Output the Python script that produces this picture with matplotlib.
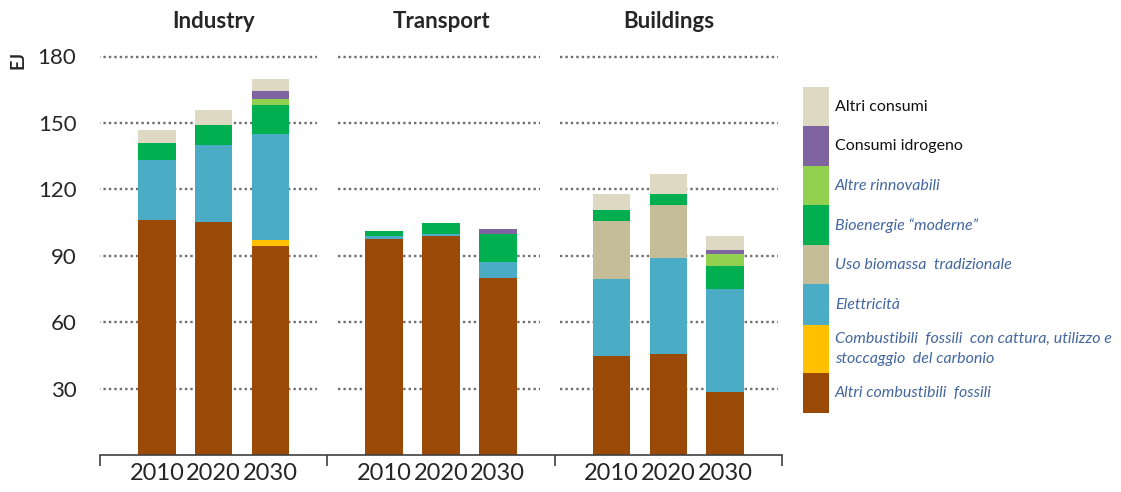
import matplotlib
matplotlib.use("Agg")
import matplotlib.pyplot as plt
from matplotlib import font_manager
from matplotlib.patches import Rectangle


def pick_font(names):
    for n in names:
        try:
            font_manager.findfont(n, fallback_to_default=False)
            return n
        except Exception:
            pass
    return "DejaVu Sans"


FONT = pick_font(["Liberation Sans Narrow", "Lato", "Open Sans"])
plt.rcParams["font.family"] = [FONT, "DejaVu Sans"]

# dati (EJ) - Industry 2010/2020/2030, Transport ..., Buildings ...
settori = ["Industry", "Transport", "Buildings"]
anni = ["2010", "2020", "2030"]

fossili = [106.2, 105.4, 94.6, 97.6, 99.1, 79.8, 44.7, 45.8, 28.5]
ccus = [0, 0, 2.7, 0, 0, 0, 0, 0, 0]
elettricita = [27.2, 34.6, 47.6, 1.5, 0.8, 7.2, 34.8, 43.2, 46.5]
biomassa_trad = [0, 0, 0, 0, 0, 0, 26.1, 23.7, 0]
bioenergie = [7.6, 9.0, 13.4, 2.3, 5.1, 12.9, 5.1, 5.0, 10.5]
altre_rinn = [0, 0, 2.7, 0, 0, 0, 0, 0, 5.3]
idrogeno = [0, 0, 3.3, 0, 0, 2.2, 0, 0, 1.8]
altri_consumi = [6.0, 7.0, 5.7, 0, 0, 0, 7.0, 9.3, 6.2]

serie = [
    ("Altri combustibili  fossili", fossili, "#9a4a06"),
    ("Combustibili  fossili  con cattura, utilizzo e\nstoccaggio  del carbonio", ccus, "#ffc000"),
    ("Elettricità", elettricita, "#4bacc6"),
    ("Uso biomassa  tradizionale", biomassa_trad, "#c4bd97"),
    ("Bioenergie “moderne”", bioenergie, "#00b050"),
    ("Altre rinnovabili", altre_rinn, "#92d050"),
    ("Consumi idrogeno", idrogeno, "#8064a2"),
    ("Altri consumi", altri_consumi, "#ddd9c3"),
]

yticks = [30, 60, 90, 120, 150, 180]

W, H = 1121, 492
fig = plt.figure(figsize=(W / 100, H / 100), dpi=100)

ymax = 182
top_px = 455 - (455 - 56.5) / 180 * ymax
ax = fig.add_axes([100 / W, (H - 455) / H, 682 / W, (455 - top_px) / H])

xpos = [g * 4 + i + 1 for g in range(3) for i in range(3)]
base = [0.0] * 9
for nome, valori, col in serie:
    ax.bar(xpos, valori, width=0.66, bottom=base, color=col, zorder=2, linewidth=0)
    base = [b + v for b, v in zip(base, valori)]

# griglia punteggiata per ogni settore
griglia = [(-0.04, 3.82), (4.19, 7.74), (8.09, 11.93)]
for x0, x1 in griglia:
    ax.hlines(yticks, x0, x1, colors="#6e6e6e", linewidth=1.7,
              linestyles=(0, (1, 1.3)), zorder=1)

ax.set_xlim(0, 12)
ax.set_ylim(0, ymax)
for s in ["top", "right", "left"]:
    ax.spines[s].set_visible(False)
ax.spines["bottom"].set_color("#404040")
ax.spines["bottom"].set_linewidth(1.2)

ax.set_yticks(yticks)
ax.set_yticklabels([str(v) for v in yticks], fontsize=16, color="#262626")
ax.tick_params(axis="y", length=0, pad=17)

ax.set_xticks(xpos)
ax.set_xticklabels(anni * 3, fontsize=17, color="#262626")
ax.tick_params(axis="x", length=0, pad=6)
ax.set_xticks([0, 4, 8, 12], minor=True)
ax.tick_params(axis="x", which="minor", length=8, width=1.2, color="#404040", direction="out")

for g, nome in enumerate(settori):
    fig.text((100 + (g * 4 + 2) * 682 / 12) / W, (H - 22) / H, nome, ha="center",
             va="center", fontsize=16, fontweight="bold", color="#262626")

fig.text(18 / W, (H - 60) / H, "EJ", rotation=90, ha="center", va="center",
         fontsize=13, fontweight="bold", color="#262626")

# legenda manuale a destra
leg = fig.add_axes([0, 0, 1, 1])
leg.set_xlim(0, W)
leg.set_ylim(H, 0)
leg.axis("off")
leg.patch.set_alpha(0)

sw_top = [86.7, 126, 166, 205, 245, 284, 325, 373]
sw_bot = sw_top[1:] + [413]
text_y = [106.7, 146, 186, 226, 265, 305, 349, 393]
ordine = serie[::-1]
for k, (nome, valori, col) in enumerate(ordine):
    leg.add_patch(Rectangle((803, sw_top[k]), 25.5, sw_bot[k] - sw_top[k], color=col, linewidth=0))
    corsivo = k >= 2
    leg.text(835, text_y[k], nome, ha="left", va="center", fontsize=11.5,
             style="italic" if corsivo else "normal",
             color="#44679f" if corsivo else "#111111", linespacing=1.6)

fig.savefig("out.png", dpi=100)
